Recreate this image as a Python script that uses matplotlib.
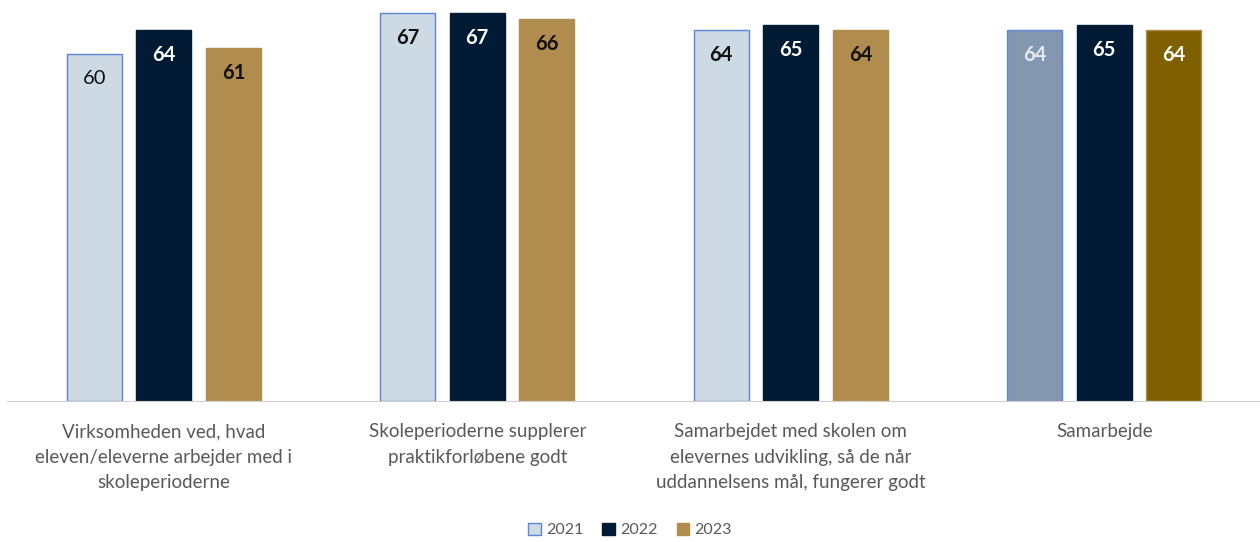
import numpy as np
import matplotlib.pyplot as plt

plt.rcParams['font.family'] = ['Lato', 'DejaVu Sans']

# data
categories = [
    "Virksomheden ved, hvad\neleven/eleverne arbejder med i\nskoleperioderne",
    "Skoleperioderne supplerer\npraktikforløbene godt",
    "Samarbejdet med skolen om\nelevernes udvikling, så de når\nuddannelsens mål, fungerer godt",
    "Samarbejde",
]
years = ["2021", "2022", "2023"]
v2021 = [60, 67, 64, 64]
v2022 = [64, 67, 65, 65]
v2023 = [61, 66, 64, 64]

# colours per year, last group is the total and darker
colors = {
    "2021": ["#CDD9E3"] * 3 + ["#8497B0"],
    "2022": ["#021B35"] * 4,
    "2023": ["#B08C4E"] * 3 + ["#7F6000"],
}
edges = {"2021": "#5B86D6", "2022": "#021B35", "2023": "#B08C4E"}
label_colors = {
    "2021": ["#111111"] * 3 + ["#E6EAF0"],
    "2022": ["white"] * 4,
    "2023": ["#111111"] * 3 + ["white"],
}

fig = plt.figure(figsize=(12.6, 5.42), dpi=100)
ax = fig.add_axes([7 / 1260, 141 / 542, 1254 / 1260, 401 / 542])

x = np.arange(len(categories))
w = 0.175
step = 0.222
series = {"2021": v2021, "2022": v2022, "2023": v2023}

handles = []
for i, yr in enumerate(years):
    pos = x + (i - 1) * step
    vals = series[yr]
    bars = ax.bar(pos, vals, width=w, color=colors[yr], edgecolor=edges[yr],
                  linewidth=1.0, label=yr)
    handles.append(bars)
    for j, b in enumerate(bars):
        weight = "normal" if (yr == "2021" and j == 0) else "bold"
        ax.annotate(str(vals[j]), (b.get_x() + b.get_width() / 2, b.get_height()),
                    xytext=(0, -18), textcoords="offset points",
                    ha="center", va="center", fontsize=14.5, fontweight=weight,
                    color=label_colors[yr][j])

ax.set_xlim(-0.5, len(categories) - 0.5)
ax.set_ylim(0, 69.25)
ax.set_xticks(x)
ax.set_xticklabels(categories, fontsize=13.5, color="#595959", linespacing=1.6)
ax.tick_params(axis="x", length=0, pad=16)
ax.set_yticks([])
for s in ["top", "right", "left"]:
    ax.spines[s].set_visible(False)
ax.spines["bottom"].set_color("#D0D0D0")

leg = fig.legend(handles=handles, labels=years, loc="center", ncol=3,
                 bbox_to_anchor=(0.5, 12 / 542), frameon=False, fontsize=11.5,
                 handlelength=0.8, handleheight=0.8, handletextpad=0.3,
                 columnspacing=1.2)
for t in leg.get_texts():
    t.set_color("#595959")

fig.savefig("out.png", dpi=100)
